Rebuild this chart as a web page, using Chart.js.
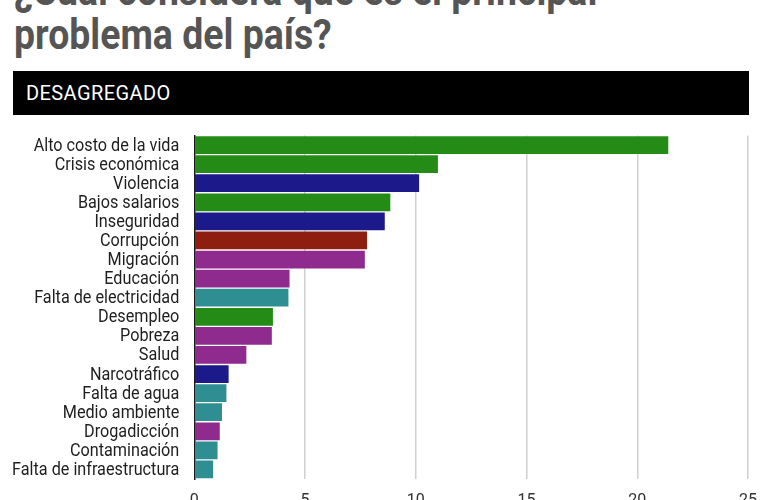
<!DOCTYPE html>
<html>
<head>
<meta charset="utf-8">
<script src="https://cdn.jsdelivr.net/npm/chart.js@4"></script>
<style>
  html, body { margin: 0; padding: 0; background: #fff; overflow: hidden; }
  body { width: 783px; height: 500px; position: relative; }
  .title {
    position: absolute; left: 14px; top: -32px; margin: 0;
    font: bold 43px/44px Roboto, sans-serif; color: #555;
    transform: scaleX(0.87); transform-origin: left top; white-space: nowrap;
  }
  .banner {
    position: absolute; left: 13px; top: 71px; width: 736px; height: 44px;
    background: #000; color: #fff;
    font: 20px Roboto, sans-serif; letter-spacing: 0.4px;
    line-height: 44px; box-sizing: border-box; padding-left: 13px;
  }
  #wrap { position: absolute; left: 0; top: 120px; width: 783px; height: 400px; }
</style>
</head>
<body>
<h1 class="title">¿Cuál considera que es el principal<br>problema del país?</h1>
<div class="banner">DESAGREGADO</div>
<div id="wrap"><canvas id="chart"></canvas></div>
<script>
// datos (%)
const categories = [
  'Alto costo de la vida', 'Crisis económica', 'Violencia', 'Bajos salarios',
  'Inseguridad', 'Corrupción', 'Migración', 'Educación', 'Falta de electricidad',
  'Desempleo', 'Pobreza', 'Salud', 'Narcotráfico', 'Falta de agua',
  'Medio ambiente', 'Drogadicción', 'Contaminación', 'Falta de infraestructura'
];
const values = [21.4, 11.0, 10.15, 8.85, 8.6, 7.8, 7.7, 4.3, 4.25, 3.55, 3.5, 2.35, 1.55, 1.45, 1.25, 1.15, 1.05, 0.85];
const groups = ['eco', 'eco', 'seg', 'eco', 'seg', 'pol', 'soc', 'soc', 'serv', 'eco', 'soc', 'soc', 'seg', 'serv', 'serv', 'soc', 'serv', 'serv'];
const groupColors = { eco: '#248c16', seg: '#1c1a8a', pol: '#8e1e0f', soc: '#8f2a8f', serv: '#2f8e92' };
const xTicks = [0, 5, 10, 15, 20, 25];

// etiquetas del eje Y en letra estrecha
const narrowLabels = {
  id: 'narrowLabels',
  afterDraw(chart) {
    const ctx = chart.ctx, y = chart.scales.y;
    ctx.save();
    ctx.font = '18px Roboto';
    ctx.fillStyle = '#1e1e1e';
    ctx.textAlign = 'right';
    ctx.textBaseline = 'middle';
    categories.forEach((c, i) => {
      ctx.save();
      ctx.translate(y.right - 15, y.getPixelForValue(i) + 1);
      ctx.scale(0.9, 1);
      ctx.fillText(c, 0, 0);
      ctx.restore();
    });
    ctx.restore();
  }
};

new Chart(document.getElementById('chart'), {
  type: 'bar',
  data: {
    labels: categories,
    datasets: [{
      data: values,
      backgroundColor: groups.map(g => groupColors[g]),
      barPercentage: 0.93,
      categoryPercentage: 1.0
    }]
  },
  options: {
    indexAxis: 'y',
    responsive: true,
    maintainAspectRatio: false,
    animation: false,
    layout: { padding: { top: 15.5, right: 35, left: 0, bottom: 0 } },
    plugins: { legend: { display: false }, tooltip: { enabled: false } },
    scales: {
      x: {
        min: 0, max: 25,
        afterBuildTicks: s => { s.ticks = xTicks.map(v => ({ value: v })); },
        afterFit: s => { s.height = 41; },
        grid: {
          color: c => c.tick && c.tick.value === 0 ? 'rgba(0,0,0,0)' : '#cfcfcf',
          lineWidth: 1.5,
          drawTicks: false
        },
        border: { display: false },
        ticks: { padding: 12, color: '#333', font: { family: 'Roboto', size: 16 } }
      },
      y: {
        afterFit: s => { s.width = 194.3; },
        grid: { display: false },
        border: { display: true, color: '#1a1a1a', width: 1.5 },
        ticks: { display: false }
      }
    }
  },
  plugins: [narrowLabels]
});
</script>
</body>
</html>
